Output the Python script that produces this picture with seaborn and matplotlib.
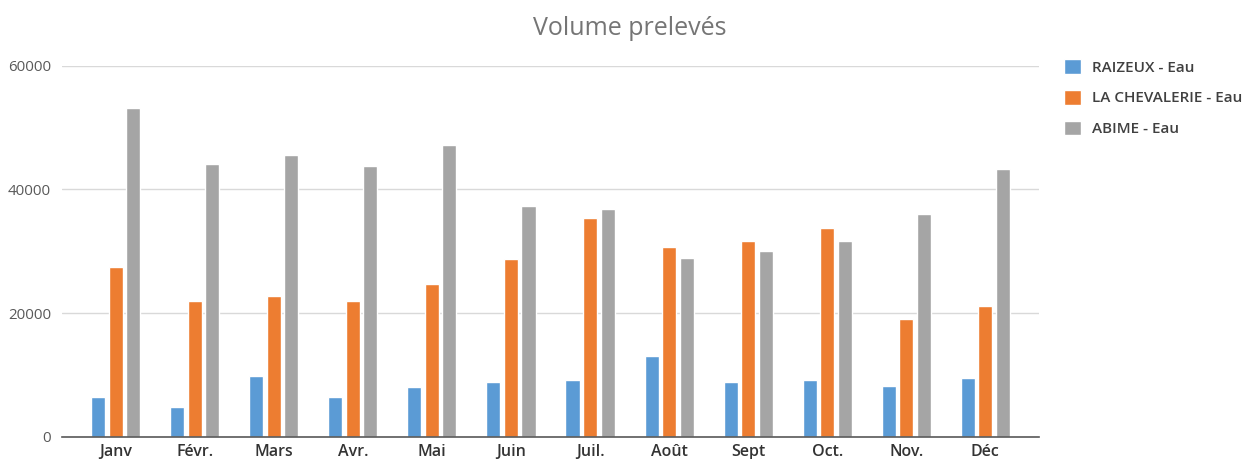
import numpy as np
import pandas as pd
import matplotlib.pyplot as plt
import seaborn as sns

# Monthly volumes
months = ["Janv", "Févr.", "Mars", "Avr.", "Mai", "Juin", "Juil.", "Août", "Sept", "Oct.", "Nov.", "Déc"]
raizeux = [6470, 4850, 9870, 6470, 8090, 8900, 9160, 13100, 8900, 9160, 8250, 9430]
chevalerie = [27490, 22000, 22750, 22000, 24690, 28680, 35310, 30730, 31700, 33690, 19030, 21130]
abime = [53100, 44040, 45550, 43770, 47120, 37360, 36760, 28950, 30080, 31700, 36010, 43230]
series_names = ["RAIZEUX - Eau", "LA CHEVALERIE - Eau", "ABIME - Eau"]
y_ticks = [0, 20000, 40000, 60000]

df = pd.DataFrame({
    "mois": months * 3,
    "volume": raizeux + chevalerie + abime,
    "serie": np.repeat(series_names, len(months)),
})

colors = ["#5B9BD5", "#ED7D31", "#A5A5A5"]

sns.set_theme(style="white")
plt.rcParams['font.family'] = ['Open Sans', 'DejaVu Sans']

fig = plt.figure(figsize=(12.47, 4.59), dpi=100)
ax = fig.add_axes([62 / 1247, 1 - 436.7 / 459, 977 / 1247, 371 / 459])

sns.barplot(data=df, x="mois", y="volume", hue="serie", palette=colors,
            width=0.665, gap=0.2, saturation=1, ax=ax, order=months,
            hue_order=series_names)

ax.set_ylim(0, 60000)
ax.set_xlim(-0.68, 11.68)
ax.set_yticks(y_ticks)
ax.set_yticklabels([str(t) for t in y_ticks], fontsize=10.8, color="#595959")
ax.tick_params(axis="x", labelsize=11.5, colors="#333333", pad=5, length=0)
ax.tick_params(axis="y", pad=8, length=0)
for lab in ax.get_xticklabels():
    lab.set_fontweight("semibold")

ax.yaxis.grid(True, color="#D9D9D9", linewidth=1)
ax.set_axisbelow(True)
for side in ["left", "right", "top"]:
    ax.spines[side].set_visible(False)
ax.spines["bottom"].set_color("#595959")
ax.spines["bottom"].set_linewidth(1.2)
ax.set_xlabel("")
ax.set_ylabel("")

sns.move_legend(ax, "upper left", bbox_to_anchor=(1.012, 1.055), frameon=False,
                title=None, fontsize=11, handlelength=1.1, handleheight=1.1,
                handletextpad=0.7, labelspacing=1.0)
for txt in ax.get_legend().get_texts():
    txt.set_color("#404040")
    txt.set_fontweight("semibold")

fig.suptitle("Volume prelevés", x=0.505, y=0.965, fontsize=18, color="#757575")

fig.savefig("out.png", dpi=100)
